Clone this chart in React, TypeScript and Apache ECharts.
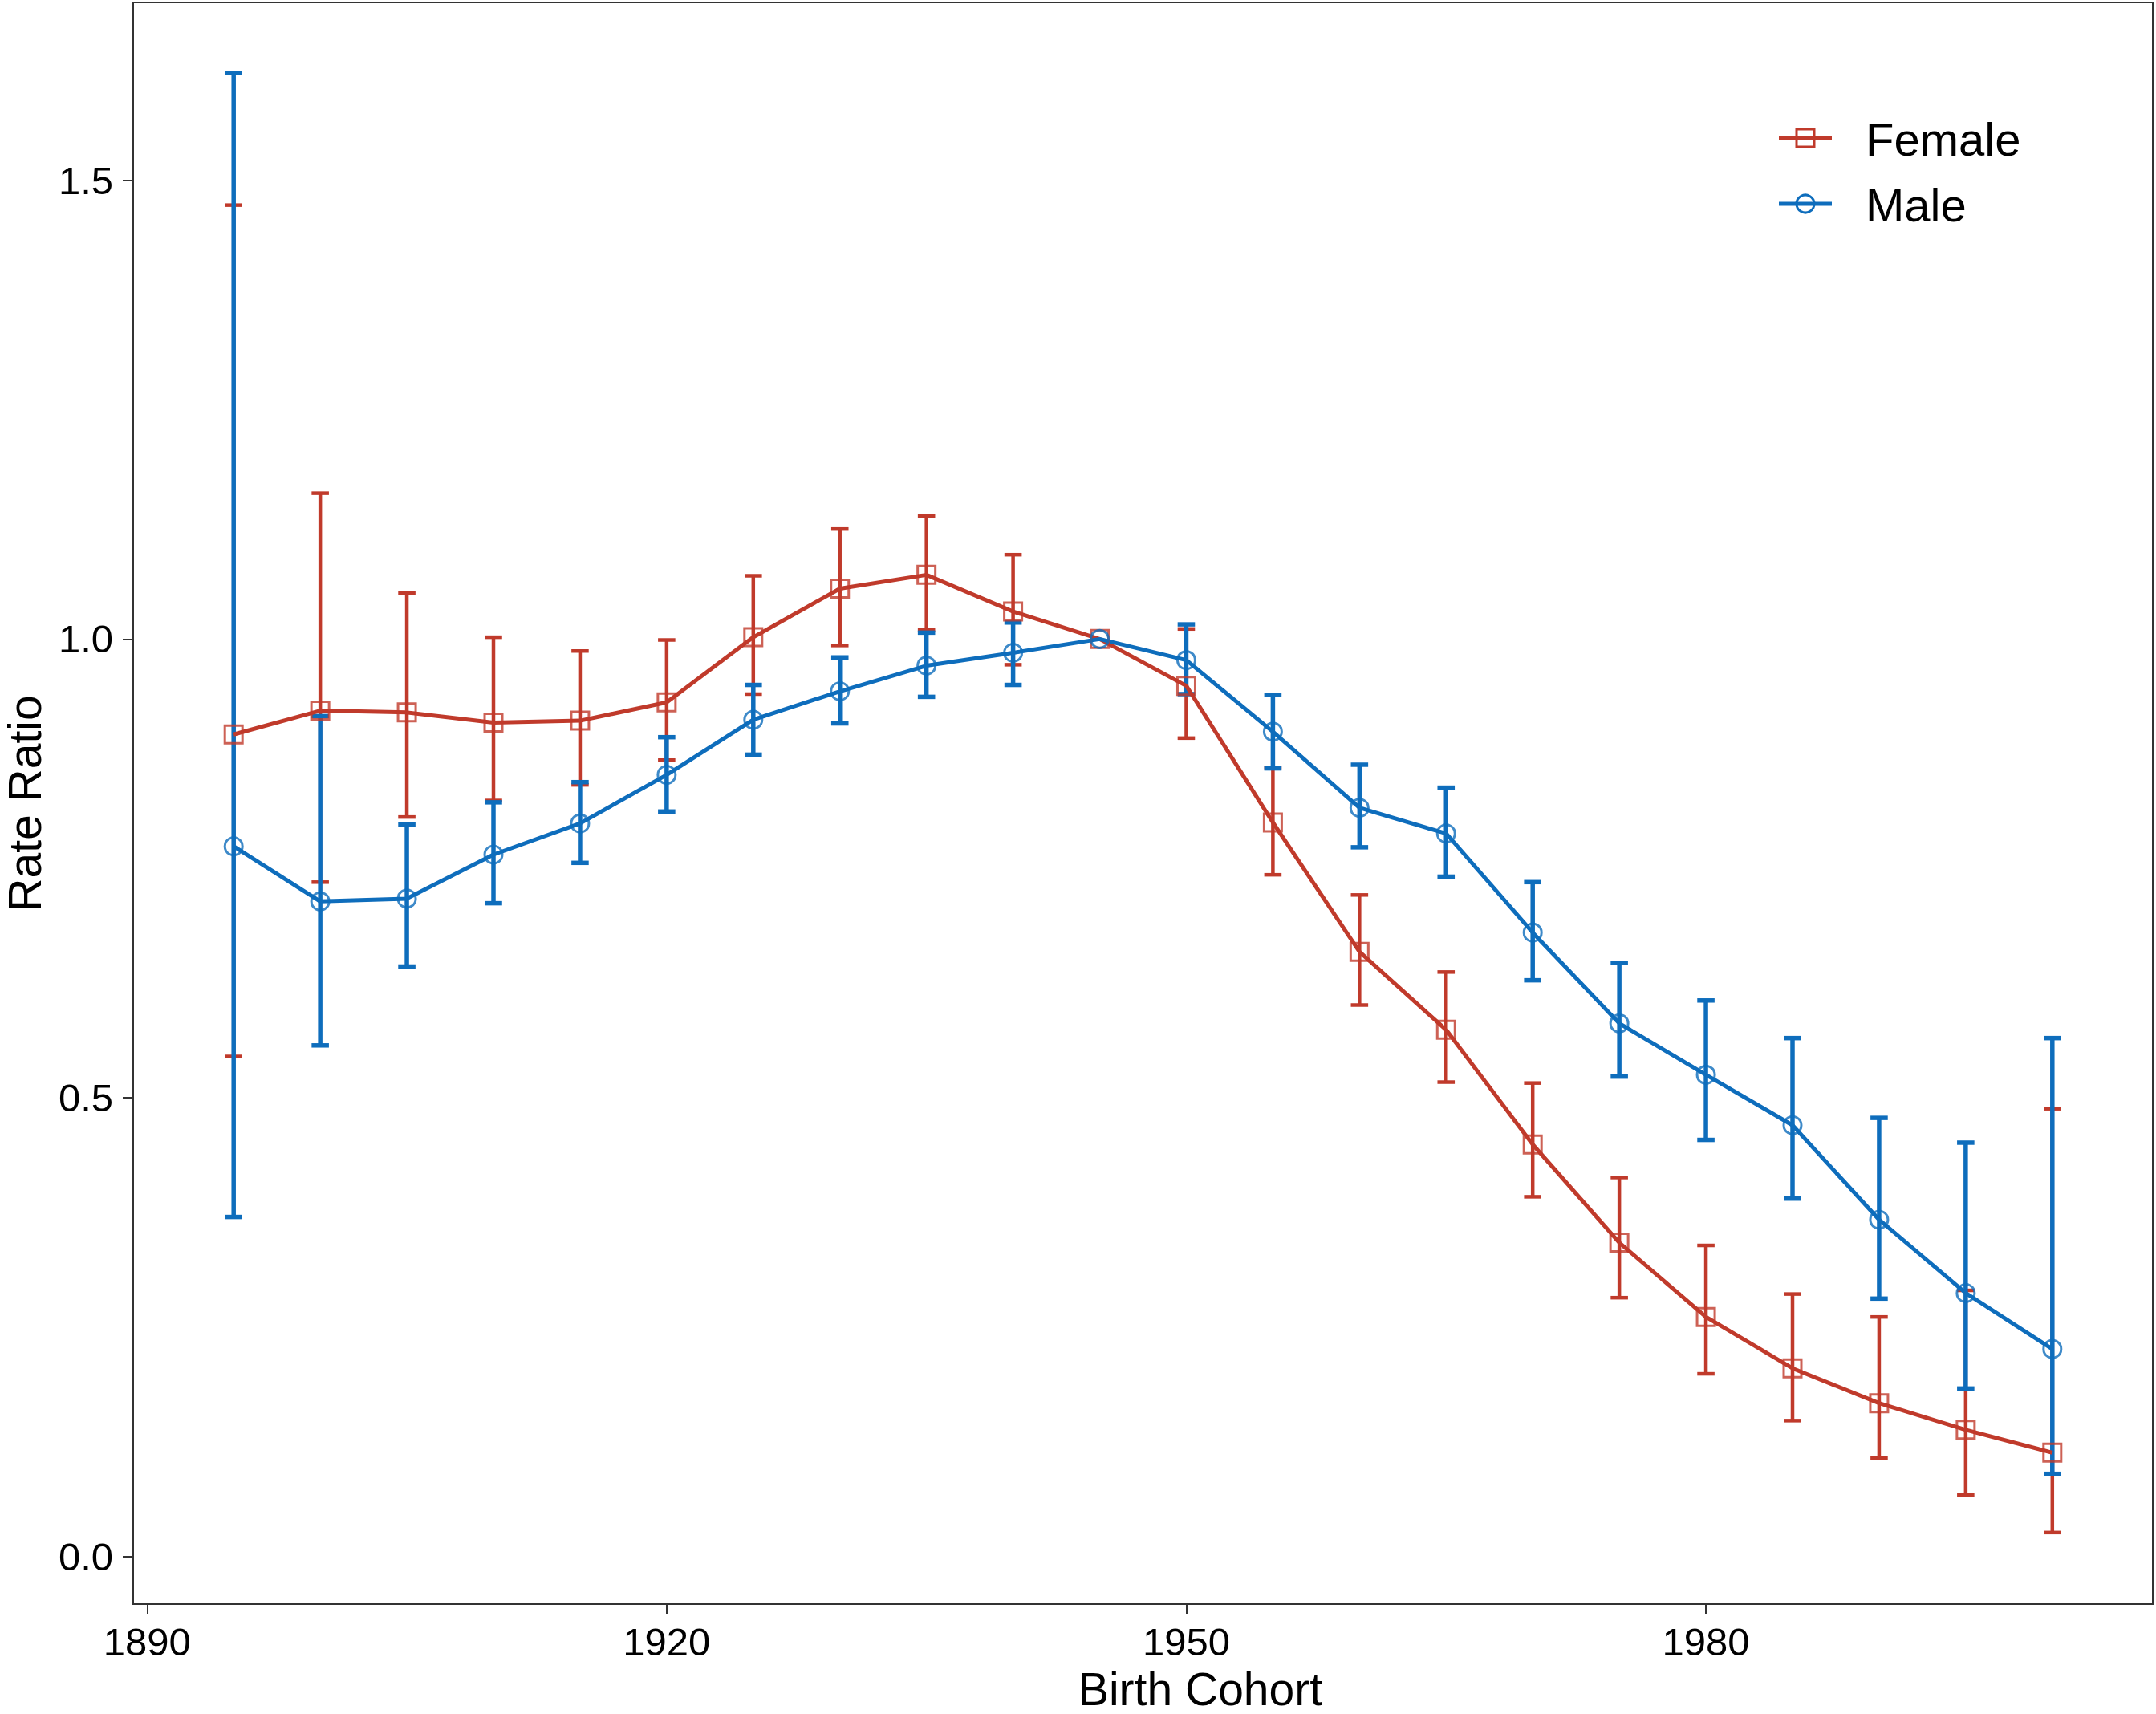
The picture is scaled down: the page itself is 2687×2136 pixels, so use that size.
import React, { useEffect, useRef } from "react";
import * as echarts from "echarts";

const years = [1895, 1900, 1905, 1910, 1915, 1920, 1925, 1930, 1935, 1940, 1945, 1950, 1955, 1960, 1965, 1970, 1975, 1980, 1985, 1990, 1995, 2000];

const femaleRR = [0.896, 0.922, 0.920, 0.909, 0.911, 0.931, 1.002, 1.055, 1.070, 1.030, 1.000, 0.949, 0.800, 0.659, 0.574, 0.449, 0.342, 0.261, 0.205, 0.167, 0.138, 0.113];
const femaleLower = [0.545, 0.735, 0.806, 0.824, 0.841, 0.868, 0.940, 0.993, 1.010, 0.972, 1.000, 0.892, 0.743, 0.601, 0.517, 0.392, 0.282, 0.199, 0.148, 0.107, 0.067, 0.026];
const femaleUpper = [1.473, 1.159, 1.050, 1.002, 0.987, 0.999, 1.069, 1.120, 1.134, 1.092, 1.000, 1.011, 0.860, 0.721, 0.637, 0.516, 0.413, 0.339, 0.286, 0.261, 0.290, 0.488];

const maleRR = [0.774, 0.714, 0.717, 0.765, 0.799, 0.852, 0.912, 0.943, 0.971, 0.985, 1.000, 0.977, 0.899, 0.816, 0.788, 0.680, 0.581, 0.525, 0.470, 0.367, 0.287, 0.226];
const maleLower = [0.370, 0.557, 0.643, 0.712, 0.756, 0.812, 0.874, 0.908, 0.937, 0.950, 1.000, 0.940, 0.859, 0.773, 0.741, 0.628, 0.523, 0.454, 0.390, 0.281, 0.183, 0.090];
const maleUpper = [1.617, 0.916, 0.798, 0.822, 0.844, 0.893, 0.950, 0.980, 1.007, 1.018, 1.000, 1.016, 0.939, 0.863, 0.838, 0.735, 0.647, 0.606, 0.565, 0.478, 0.451, 0.565];

const xTicks = [1890, 1920, 1950, 1980];
const yTicks = [0, 0.5, 1.0, 1.5];
const groupNames = ["Female", "Male"];

const RED = "#C03A2B";
const BLUE = "#0E6DBC";
const FONT = "'Liberation Sans', Arial, Helvetica, sans-serif";
const AXIS_COLOR = "#333333";

function errorBarSeries(name: string, lower: number[], upper: number[], color: string, width: number) {
  return {
    type: "custom",
    name,
    data: years.map((y, i) => [y, lower[i], upper[i]]),
    encode: { x: 0, y: [1, 2] },
    renderItem: (params: any, api: any) => {
      const x = api.value(0);
      const lo = api.value(1);
      const hi = api.value(2);
      if (lo === hi) return null;
      const top = api.coord([x, hi]);
      const bot = api.coord([x, lo]);
      const lt = api.coord([x - 0.5, hi]);
      const rt = api.coord([x + 0.5, hi]);
      const lb = api.coord([x - 0.5, lo]);
      const rb = api.coord([x + 0.5, lo]);
      const style = { stroke: color, lineWidth: width, fill: "none" };
      return {
        type: "group",
        children: [
          { type: "line", shape: { x1: top[0], y1: top[1], x2: bot[0], y2: bot[1] }, style },
          { type: "line", shape: { x1: lt[0], y1: lt[1], x2: rt[0], y2: rt[1] }, style },
          { type: "line", shape: { x1: lb[0], y1: lb[1], x2: rb[0], y2: rb[1] }, style },
        ],
      };
    },
    z: 2,
  };
}

function lineSeries(name: string, values: number[], color: string) {
  return {
    type: "line",
    name,
    data: years.map((y, i) => [y, values[i]]),
    symbol: "none",
    showSymbol: false,
    lineStyle: { color, width: 5 },
    z: 3,
  };
}

function pointSeries(name: string, values: number[], color: string, symbol: string) {
  return {
    type: "scatter",
    name,
    data: years.map((y, i) => [y, values[i]]),
    symbol,
    symbolSize: 22,
    itemStyle: { color: "rgba(0,0,0,0)", borderColor: color, borderWidth: 3 },
    z: 4,
  };
}

function legendGraphic() {
  const colors = [RED, BLUE];
  const children: any[] = [];
  groupNames.forEach((nm, i) => {
    const cy = 172 + i * 82;
    children.push({
      type: "line",
      shape: { x1: 2217, y1: cy, x2: 2283, y2: cy },
      style: { stroke: colors[i], lineWidth: 5 },
    });
    if (i === 0) {
      children.push({
        type: "rect",
        shape: { x: 2250 - 11, y: cy - 11, width: 22, height: 22 },
        style: { stroke: colors[i], lineWidth: 3, fill: "none" },
      });
    } else {
      children.push({
        type: "circle",
        shape: { cx: 2250, cy, r: 11 },
        style: { stroke: colors[i], lineWidth: 3, fill: "none" },
      });
    }
    children.push({
      type: "text",
      x: 2325,
      y: cy + 1,
      style: { text: nm, fill: "#000", font: `58px ${FONT}`, align: "left", verticalAlign: "middle" },
    });
  });
  return children;
}

export default function App() {
  const ref = useRef<HTMLDivElement>(null);
  useEffect(() => {
    if (!ref.current) return;
    const chart = echarts.init(ref.current, undefined, { renderer: "svg" });
    chart.setOption({
      animation: false,
      backgroundColor: "#ffffff",
      grid: {
        left: 166,
        right: 4,
        top: 3,
        bottom: 137,
        show: true,
        borderColor: AXIS_COLOR,
        borderWidth: 2,
        backgroundColor: "transparent",
      },
      xAxis: {
        type: "value",
        min: 1889.2,
        max: 2005.8,
        splitLine: { show: false },
        axisLine: { show: true, onZero: false, lineStyle: { color: AXIS_COLOR, width: 2 } },
        axisTick: { show: true, length: 13, customValues: xTicks, lineStyle: { color: AXIS_COLOR, width: 2 } },
        axisLabel: {
          customValues: xTicks,
          margin: 22,
          color: "#000",
          fontSize: 49,
          fontFamily: FONT,
          formatter: (v: number) => String(v),
        },
      },
      yAxis: {
        type: "value",
        min: -0.052,
        max: 1.694,
        splitLine: { show: false },
        axisLine: { show: true, onZero: false, lineStyle: { color: AXIS_COLOR, width: 2 } },
        axisTick: { show: true, length: 13, customValues: yTicks, lineStyle: { color: AXIS_COLOR, width: 2 } },
        axisLabel: {
          customValues: yTicks,
          margin: 25,
          color: "#000",
          fontSize: 49,
          fontFamily: FONT,
          formatter: (v: number) => v.toFixed(1),
        },
      },
      graphic: [
        {
          type: "text",
          x: 1496,
          y: 2105,
          style: { text: "Birth Cohort", fill: "#000", font: `57px ${FONT}`, lineHeight: 44, align: "center", verticalAlign: "middle" },
        },
        {
          type: "text",
          x: 31,
          y: 1001,
          rotation: Math.PI / 2,
          style: { text: "Rate Ratio", fill: "#000", font: `57px ${FONT}`, lineHeight: 44, align: "center", verticalAlign: "middle" },
        },
        ...legendGraphic(),
      ],
      series: [
        errorBarSeries("Female CI", femaleLower, femaleUpper, RED, 4.5),
        errorBarSeries("Male CI", maleLower, maleUpper, BLUE, 5.5),
        lineSeries("Female", femaleRR, RED),
        lineSeries("Male", maleRR, BLUE),
        pointSeries("Female pts", femaleRR, RED, "rect"),
        pointSeries("Male pts", maleRR, BLUE, "circle"),
      ],
    });
    return () => chart.dispose();
  }, []);
  return <div ref={ref} style={{ position: "absolute", left: 0, top: 0, width: 2687, height: 2136 }} />;
}
